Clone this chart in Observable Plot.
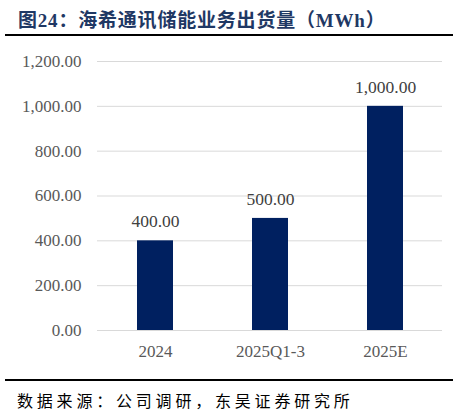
<!DOCTYPE html>
<html><head><meta charset="utf-8">
<script src="https://cdn.jsdelivr.net/npm/d3@7"></script>
<script src="https://cdn.jsdelivr.net/npm/@observablehq/plot@0.6"></script>
<style>
body{margin:0;background:#fff;width:459px;}
#title{position:relative;height:36px;border-bottom:2px solid #000;margin:0 6px 0 5px;box-sizing:border-box;}
#title span{position:absolute;left:13px;top:5px;font-family:"Liberation Serif","Noto Sans CJK SC",serif;font-weight:bold;font-size:19px;color:#1f3864;letter-spacing:0.8px;white-space:nowrap;}
#foot{height:31px;border-top:2px solid #000;margin:0 6px 0 5px;position:relative;}
#foot span{position:absolute;left:12px;top:7px;font-family:"Noto Sans CJK SC",sans-serif;font-size:16px;color:#000;letter-spacing:3.8px;white-space:nowrap;}
svg{display:block;}
</style></head>
<body>
<div id="title"><span>图24：海希通讯储能业务出货量（MWh）</span></div>
<div id="chart"></div>
<div id="foot"><span>数据来源：公司调研，东吴证券研究所</span></div>
<script>
const categories = ["2024", "2025Q1-3", "2025E"];
const values = [400, 500, 1000];
const yTicks = [0, 200, 400, 600, 800, 1000, 1200];

const data = categories.map((c, i) => ({cat: c, val: values[i]}));
const fmt = d3.format(",.2f");

const chart = Plot.plot({
  width: 459,
  height: 343,
  marginLeft: 97,
  marginRight: 17,
  marginTop: 25,
  marginBottom: 49,
  style: {fontFamily: "'Liberation Serif', 'Times New Roman', serif", fontSize: "17px", color: "#595959", background: "#fff"},
  x: {domain: categories, paddingInner: 0.69, paddingOuter: 0.345, label: null, tickSize: 0, tickPadding: 14},
  y: {domain: [0, 1200], ticks: yTicks, tickFormat: fmt, label: null, tickSize: 0, tickPadding: 16},
  marks: [
    Plot.gridY(yTicks, {stroke: "#d9d9d9", strokeOpacity: 1, strokeWidth: 1}),
    Plot.barY(data, {x: "cat", y: "val", fill: "#002060"}),
    Plot.text(data, {x: "cat", y: "val", text: d => fmt(d.val), dy: -19, fill: "#404040", fontSize: 17.5})
  ]
});
document.getElementById("chart").appendChild(chart);
</script>
</body></html>
